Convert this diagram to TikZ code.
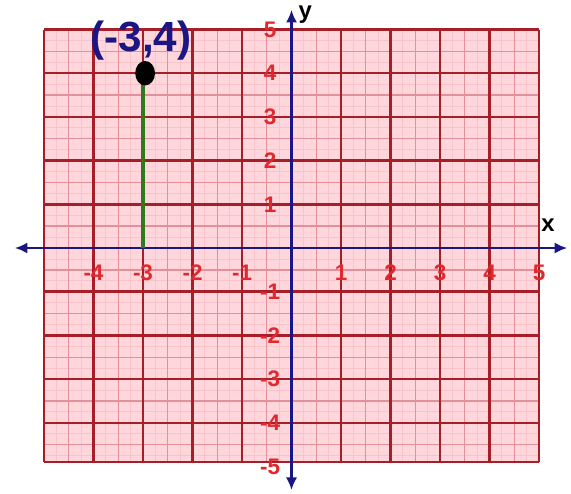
\documentclass[tikz,border=0pt]{standalone}
\usepackage{fontspec}
\setmainfont{Liberation Sans}
\usetikzlibrary{arrows.meta}
\definecolor{paper}{HTML}{FFD6DB}
\definecolor{gridmaj}{HTML}{A51E28}
\definecolor{gridmin}{HTML}{E4909A}
\definecolor{gridfine}{HTML}{F7C4CA}
\definecolor{axisblue}{HTML}{1C1682}
\definecolor{ticktext}{HTML}{E0282E}
\definecolor{stemgreen}{HTML}{2F7A1E}
\tikzset{
  axisline/.style={axisblue,line width=2pt,{Latex[length=9pt,width=8pt]}-{Latex[length=9pt,width=8pt]}},
  ticklabel/.style={ticktext,inner sep=1pt,font=\fontsize{16}{16}\selectfont\bfseries},
  axislabel/.style={inner sep=1pt,font=\fontsize{17}{17}\selectfont\bfseries},
}
\begin{document}
\begin{tikzpicture}[x=1.2375cm,y=1.0925cm,line width=.35pt]
\useasboundingbox (-5.889,-5.606) rectangle (5.646,5.675);
% sheet
\fill[paper] (-5,-4.9) rectangle (5,5);
\draw[gridfine,line width=.6pt,step=.25] (-5,-4.9) grid (5,5);
\draw[gridmin,line width=1pt,step=.5] (-5,-4.9) grid (5,5);
\foreach \k in {-5,...,5} \draw[gridmaj,line width=1.8pt] (\k,-4.9)--(\k,5);
\foreach \k in {-4,...,5} \draw[gridmaj,line width=1.8pt] (-5,\k)--(5,\k);
\draw[gridmaj,line width=1.8pt] (-5,-4.9)--(5,-4.9);
% axes
\coordinate (xl) at (-5.59,0);
\coordinate (xr) at (5.57,0);
\coordinate (yb) at (0,-5.54);
\coordinate (yt) at (0,5.45);
\draw[axisline] (xl)--(xr);
\draw[axisline] (yb)--(yt);
\node[axislabel] (xlab) at (5.18,0.53) {x};
\node[axislabel] (ylab) at (0.28,5.35) {y};
\foreach \k in {-4,-3,-2,-1,1,2,3,4,5}
  \node[ticklabel] (tx\k) at (\k,-0.57) {\k};
\foreach \k in {-5,-4,-3,-2,-1,1,2,3,4,5}
  \node[ticklabel] (ty\k) at (-0.43,\k) {\k};
% the point
\coordinate (foot) at (-3,0);
\coordinate (pt) at (-3,4.0);
\draw[stemgreen,line width=3.5pt] (foot)--(pt);
\fill[black] ([xshift=1.5pt]pt) ellipse [x radius=0.2,y radius=0.28];
\node[axisblue,inner sep=1pt,font=\fontsize{30}{30}\selectfont\bfseries] (ptlab) at (-3.04,4.75) {(-3,4)};
\end{tikzpicture}
\end{document}
